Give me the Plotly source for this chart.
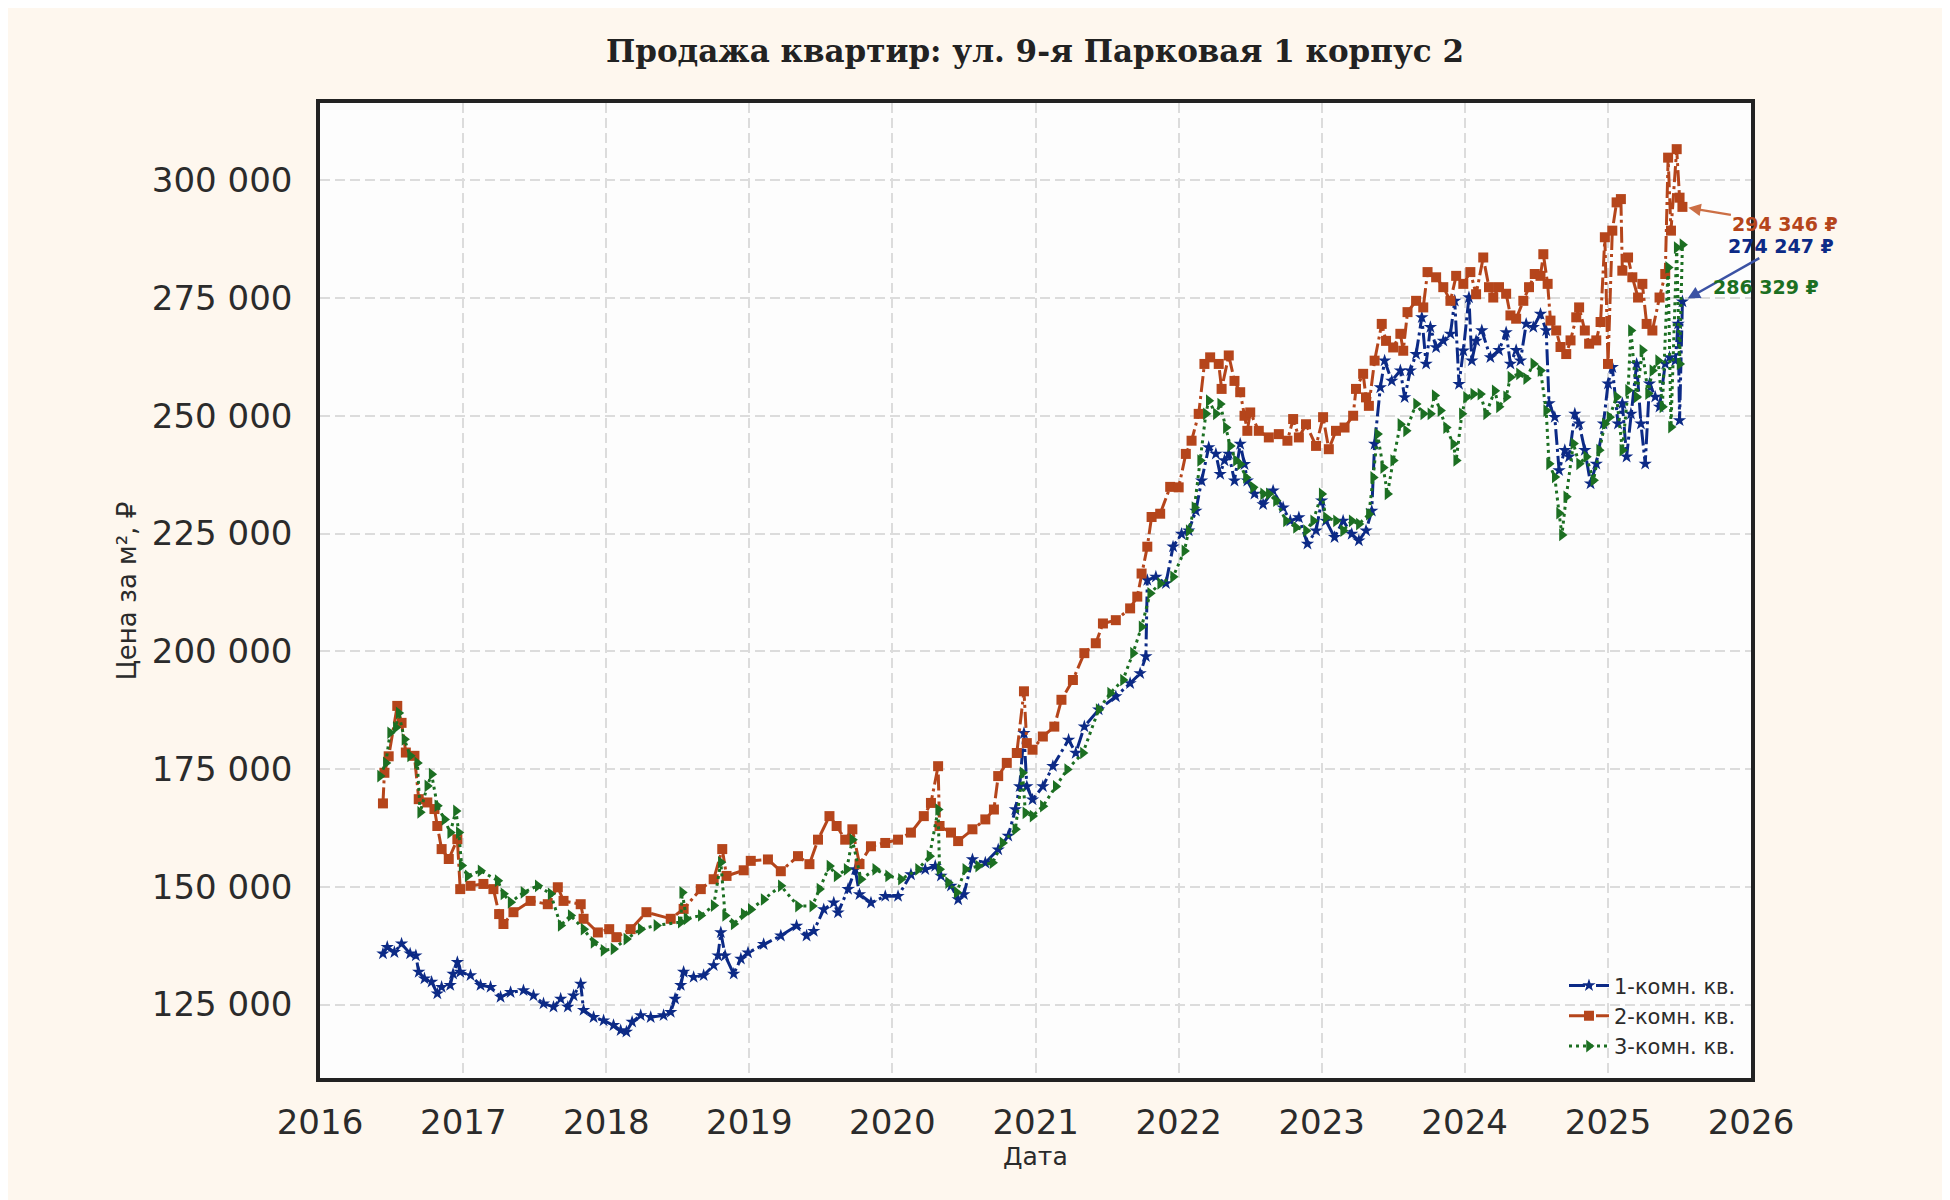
import pandas as pd
import plotly.graph_objects as go

# decimal years and prices per m²
one_room_t = [
    2016.44, 2016.47, 2016.52, 2016.57, 2016.63, 2016.67, 2016.69, 2016.73, 2016.78, 2016.82, 2016.85, 2016.91, 2016.93, 2016.96, 2016.98,
    2017.05, 2017.12, 2017.19, 2017.26, 2017.33, 2017.42, 2017.49, 2017.56, 2017.63, 2017.68, 2017.73, 2017.77, 2017.82, 2017.84, 2017.91, 2017.98,
    2018.05, 2018.10, 2018.14, 2018.18, 2018.24, 2018.31, 2018.40, 2018.45, 2018.48, 2018.52, 2018.54, 2018.61, 2018.68, 2018.75, 2018.78, 2018.80, 2018.83, 2018.89, 2018.94, 2018.99,
    2019.10, 2019.22, 2019.33, 2019.40, 2019.45, 2019.52, 2019.59, 2019.62, 2019.69, 2019.74, 2019.77, 2019.85, 2019.95,
    2020.04, 2020.13, 2020.23, 2020.30, 2020.34, 2020.41, 2020.46, 2020.50, 2020.56, 2020.65, 2020.74, 2020.81, 2020.86, 2020.89, 2020.92, 2020.94, 2020.98,
    2021.05, 2021.12, 2021.23, 2021.28, 2021.34, 2021.44, 2021.56, 2021.66, 2021.73, 2021.77, 2021.78, 2021.84, 2021.91, 2021.96,
    2022.02, 2022.07, 2022.12, 2022.16, 2022.21, 2022.26, 2022.29, 2022.32, 2022.35, 2022.39, 2022.43, 2022.46, 2022.48, 2022.53, 2022.59, 2022.66, 2022.73, 2022.78, 2022.84, 2022.90, 2022.96,
    2023.00, 2023.03, 2023.09, 2023.15, 2023.21, 2023.26, 2023.31, 2023.35, 2023.37, 2023.41, 2023.44, 2023.49, 2023.55, 2023.58, 2023.62, 2023.66, 2023.70, 2023.73, 2023.76, 2023.80, 2023.85, 2023.90, 2023.93, 2023.96, 2023.99,
    2024.03, 2024.05, 2024.08, 2024.12, 2024.18, 2024.24, 2024.29, 2024.32, 2024.36, 2024.39, 2024.43, 2024.48, 2024.53, 2024.57, 2024.59, 2024.63, 2024.66, 2024.70, 2024.73, 2024.77, 2024.80, 2024.84, 2024.88, 2024.92, 2024.97,
    2025.00, 2025.03, 2025.07, 2025.10, 2025.13, 2025.16, 2025.20, 2025.23, 2025.26, 2025.29, 2025.33, 2025.36, 2025.40, 2025.43, 2025.47, 2025.49, 2025.50, 2025.52,
]
one_room_v = [
    135800, 137200, 136100, 137900, 135800, 135400, 131900, 130500, 129800, 127300, 128700, 129100, 131500, 134000, 131900,
    131200, 129100, 128700, 126600, 127600, 128000, 126900, 125200, 124500, 126200, 124500, 126900, 129400, 123800, 122300, 121600,
    120600, 119500, 119200, 121300, 122700, 122300, 122700, 123400, 126200, 129100, 131900, 130800, 131200, 133300, 135400, 140300, 135400, 131500, 134700, 136000,
    137800, 139600, 141700, 139600, 140600, 145200, 146600, 144500, 149500, 153700, 148400, 146600, 148000,
    148000, 152600, 153700, 154400, 152300, 150200, 147300, 148400, 155800, 155100, 157900, 160800, 166400, 171300, 182600, 171300, 168500,
    171300, 175600, 181200, 178400, 184000, 187600, 190400, 193200, 195300, 198900, 215100, 215800, 214400, 222200,
    224900, 225600, 229800, 236200, 243300, 241900, 237600, 240500, 241900, 236200, 244000, 239700, 236200, 233400, 231200, 234100, 230500, 227700, 228400, 222800, 225600,
    232000, 227700, 224200, 227700, 224900, 223500, 225600, 229800, 244000, 256000, 261700, 257400, 259600, 253900, 259600, 263100, 270900, 261000, 268800, 264500, 265900, 267400, 274400, 256700, 263800,
    275100, 261700, 265900, 268100, 262400, 263900, 267700, 261000, 263900, 261700, 269500, 268800, 271600, 268100, 252600, 249700, 238400, 242700, 241300, 250400, 248300, 242700, 235600, 239800, 248300,
    256800, 260300, 248300, 252600, 241300, 250400, 261000, 248300, 239800, 256800, 254000, 251900, 261000, 262400, 261700, 269500, 249000, 274247,
]

two_room_t = [
    2016.44, 2016.45, 2016.48, 2016.54, 2016.57, 2016.60, 2016.66, 2016.69, 2016.75, 2016.80, 2016.82, 2016.85, 2016.90, 2016.96, 2016.98,
    2017.05, 2017.14, 2017.21, 2017.25, 2017.28, 2017.35, 2017.47, 2017.59, 2017.66, 2017.70, 2017.82, 2017.84, 2017.94,
    2018.02, 2018.07, 2018.17, 2018.28, 2018.45, 2018.54, 2018.66, 2018.75, 2018.81, 2018.84, 2018.96,
    2019.01, 2019.13, 2019.22, 2019.34, 2019.42, 2019.48, 2019.56, 2019.61, 2019.67, 2019.72, 2019.77, 2019.85, 2019.95,
    2020.04, 2020.13, 2020.22, 2020.27, 2020.32, 2020.33, 2020.41, 2020.46, 2020.56, 2020.65, 2020.71, 2020.74, 2020.80, 2020.87, 2020.92, 2020.94, 2020.98,
    2021.05, 2021.13, 2021.18, 2021.26, 2021.34, 2021.42, 2021.47, 2021.56, 2021.66, 2021.71, 2021.74, 2021.78, 2021.81, 2021.87, 2021.94,
    2022.00, 2022.05, 2022.09, 2022.14, 2022.18, 2022.22, 2022.28, 2022.30, 2022.35, 2022.39, 2022.43, 2022.46, 2022.48, 2022.50, 2022.56, 2022.63, 2022.70, 2022.76, 2022.80, 2022.84, 2022.89, 2022.96,
    2023.01, 2023.05, 2023.10, 2023.16, 2023.22, 2023.24, 2023.29, 2023.31, 2023.33, 2023.37, 2023.42, 2023.45, 2023.50, 2023.55, 2023.57, 2023.60, 2023.66, 2023.71, 2023.74, 2023.80, 2023.85, 2023.90, 2023.94, 2023.99,
    2024.04, 2024.08, 2024.13, 2024.17, 2024.20, 2024.24, 2024.29, 2024.32, 2024.36, 2024.41, 2024.45, 2024.49, 2024.53, 2024.55, 2024.58, 2024.60, 2024.64, 2024.67, 2024.71, 2024.74, 2024.78, 2024.80, 2024.84, 2024.87, 2024.92, 2024.95, 2024.98,
    2025.00, 2025.03, 2025.06, 2025.09, 2025.10, 2025.14, 2025.17, 2025.21, 2025.24, 2025.27, 2025.31, 2025.36, 2025.40, 2025.42, 2025.44, 2025.48, 2025.50, 2025.52,
]
two_room_v = [
    167700, 174200, 177700, 188400, 184800, 178500, 177800, 168600, 167900, 166500, 162900, 158000, 155900, 160100, 149500,
    150200, 150600, 149500, 144200, 142100, 144600, 147000, 146300, 149900, 147000, 146300, 143200, 140300,
    141000, 139300, 141000, 144600, 143200, 145300, 149500, 151600, 158000, 152300, 153500,
    155500, 155800, 153300, 156500, 154800, 160000, 165000, 162900, 160000, 162200, 154800, 158600, 159300,
    160000, 161500, 165000, 167800, 175600, 162900, 161500, 159700, 162200, 164300, 166400, 173500, 176300, 178400, 191500, 180500, 179100,
    181900, 184000, 189700, 193900, 199600, 201700, 205900, 206600, 209100, 211600, 216500, 222200, 228500, 229200, 234900,
    234800, 241900, 244700, 250400, 261000, 262400, 261000, 255700, 262800, 257400, 255000, 250000, 246800, 250700, 246800, 245400, 246100, 244700, 249300, 245400, 248200, 243600,
    249700, 242900, 246800, 247500, 250000, 255700, 258900, 253900, 252100, 261700, 269500, 265900, 264500, 267400, 263800, 272000, 274400, 273000, 280500, 279400, 277300, 274400, 279700, 278000,
    280500, 275800, 283600, 277300, 275100, 277300, 275900, 271300, 270600, 274400, 277300, 280100, 279700, 284300, 278000, 270200, 268100, 264600, 263100, 266000, 270900, 273000, 268100, 265300, 266000, 269900, 287900,
    261000, 289300, 295300, 296000, 280800, 283600, 279400, 275100, 278000, 269500, 268100, 275100, 280100, 304800, 289300, 306600, 296300, 294346,
]

three_room_t = [
    2016.42, 2016.46, 2016.49, 2016.53, 2016.55, 2016.59, 2016.63, 2016.68, 2016.70, 2016.75, 2016.78, 2016.82, 2016.87, 2016.91, 2016.95, 2016.97, 2016.99,
    2017.03, 2017.12, 2017.24, 2017.28, 2017.33, 2017.42, 2017.52, 2017.61, 2017.68, 2017.75, 2017.84, 2017.91, 2017.98,
    2018.05, 2018.14, 2018.24, 2018.35, 2018.52, 2018.53, 2018.56, 2018.66, 2018.75, 2018.80, 2018.83, 2018.89, 2018.96,
    2019.01, 2019.10, 2019.22, 2019.34, 2019.44, 2019.49, 2019.56, 2019.61, 2019.68, 2019.72, 2019.78, 2019.88, 2019.97,
    2020.06, 2020.18, 2020.26, 2020.32, 2020.33, 2020.39, 2020.45, 2020.51, 2020.60, 2020.70, 2020.77, 2020.86, 2020.91, 2020.93, 2020.98,
    2021.05, 2021.14, 2021.22, 2021.33, 2021.44, 2021.52, 2021.61, 2021.68, 2021.74, 2021.80, 2021.87, 2021.96,
    2022.04, 2022.07, 2022.11, 2022.15, 2022.19, 2022.21, 2022.26, 2022.29, 2022.33, 2022.36, 2022.40, 2022.43, 2022.47, 2022.52, 2022.59, 2022.63, 2022.68, 2022.75, 2022.82, 2022.89, 2022.94,
    2023.00, 2023.03, 2023.10, 2023.15, 2023.21, 2023.26, 2023.33, 2023.36, 2023.39, 2023.43, 2023.46, 2023.50, 2023.55, 2023.59, 2023.66, 2023.71, 2023.76, 2023.79, 2023.83, 2023.87, 2023.92, 2023.94, 2023.98,
    2024.01, 2024.06, 2024.11, 2024.15, 2024.21, 2024.24, 2024.29, 2024.32, 2024.38, 2024.43, 2024.48, 2024.53, 2024.57, 2024.59, 2024.63, 2024.66, 2024.68, 2024.71, 2024.76, 2024.80, 2024.85, 2024.90, 2024.94, 2024.98,
    2025.01, 2025.06, 2025.10, 2025.14, 2025.16, 2025.20, 2025.24, 2025.28, 2025.31, 2025.35, 2025.38, 2025.42, 2025.44, 2025.48, 2025.50, 2025.52,
]
three_room_v = [
    173500, 176300, 182700, 183800, 186900, 181300, 177800, 176300, 165800, 171400, 173900, 167200, 164300, 161500, 166100, 161500, 154500,
    152300, 153400, 151300, 148500, 146700, 148800, 150200, 148500, 141800, 143900, 141000, 138200, 136500,
    136800, 138900, 141000, 141800, 142500, 148800, 143200, 143900, 146000, 155200, 143900, 142100, 144200,
    145200, 147300, 150200, 145900, 145900, 149500, 154400, 152300, 153700, 160000, 151600, 153700, 152300,
    151600, 153700, 156500, 166400, 153700, 150900, 148800, 153700, 154400, 155100, 159300, 162200, 174200, 165700, 165000,
    167100, 171300, 174900, 178400, 187600, 191100, 193900, 199600, 205200, 212300, 214400, 215800,
    221300, 225600, 230500, 240500, 250400, 253200, 250400, 252500, 247500, 243600, 240500, 239700, 236900, 234800, 233400, 233400, 232000, 227700, 226300, 225600, 227700,
    233400, 228400, 227700, 225600, 227700, 227000, 229100, 236900, 246100, 239000, 233400, 240500, 248200, 246800, 252500, 250400, 250400, 254300, 251100, 247500, 244000, 240500, 250400,
    253900, 254600, 254600, 250400, 255300, 251900, 254000, 258200, 258900, 257900, 261000, 259600, 251100, 239800, 237000, 229300, 224700, 232800, 244100, 239800, 241300, 236300, 242700, 248300,
    249700, 254000, 242700, 255400, 268100, 254000, 263900, 254700, 259600, 261700, 251900, 281500, 247600, 285700, 261000, 286329,
]

room_labels = ["1-комн. кв.", "2-комн. кв.", "3-комн. кв."]
year_ticks = list(range(2016, 2027))

BLUE = "#0c2a86"
ORANGE = "#b5451b"
GREEN = "#1c6f22"
FONT = "DejaVu Sans"

# the page body adds an 8px offset, so the figure is a bit smaller
W, H = 1942, 1192


def to_dates(years):
    out = []
    for y in years:
        base = pd.Timestamp(year=int(y), month=1, day=1)
        out.append(base + pd.Timedelta(days=(y - int(y)) * 365.25))
    return out


series = [
    (room_labels[0], one_room_t, one_room_v, BLUE, "star", 10, "16px,4px,3px,4px", "#3b52a4", 99, -56),
    (room_labels[1], two_room_t, two_room_v, ORANGE, "square", 10, "16px,4px,3px,4px", "#cc6f45", 103, 17),
    (room_labels[2], three_room_t, three_room_v, GREEN, "triangle-right", 11, "3px,4px", "#2c7d31", 84, 42),
]

fig = go.Figure()
for name, t, v, color, symbol, msize, dash, arrow_color, ax, ay in series:
    assert len(t) == len(v), name
    dates = to_dates(t)
    fig.add_trace(go.Scatter(
        x=dates, y=v, mode="lines+markers", name=name,
        line=dict(color=color, width=3, dash=dash),
        marker=dict(symbol=symbol, size=msize, color=color, line=dict(width=0)),
    ))
    fig.add_annotation(
        x=dates[-1], y=v[-1], text=f"{v[-1]:,} ₽".replace(",", " "),
        showarrow=True, ax=ax, ay=ay, arrowhead=2, arrowsize=1, arrowwidth=2.5,
        arrowcolor=arrow_color, standoff=6,
        font=dict(family=FONT, size=19, color=color, weight="bold"),
    )

axis_style = dict(
    showgrid=True, gridcolor="#dcdcdc", gridwidth=2, griddash="10px,5px",
    showline=True, mirror=True, linecolor="#222222", linewidth=3.5,
    ticks="", zeroline=False, automargin=False,
    tickfont=dict(family=FONT, size=34, color="#2b2b2b"),
)

fig.update_xaxes(
    range=["2016-01-01", "2026-01-01"],
    tickvals=[f"{y}-01-01" for y in year_ticks], ticktext=[str(y) for y in year_ticks],
    ticklabelstandoff=11, **axis_style,
)
fig.update_yaxes(
    range=[109400, 316400], tick0=0, dtick=25000, tickformat=",d",
    ticklabelstandoff=17, **axis_style,
)

fig.add_annotation(
    text="Дата", xref="paper", yref="paper", x=0.5, y=-0.081,
    showarrow=False, yanchor="middle", font=dict(family=FONT, size=25, color="#2b2b2b"),
)
fig.add_annotation(
    text="Цена за м², ₽", xref="paper", yref="paper", x=-0.135, y=0.5,
    showarrow=False, textangle=-90, xanchor="center", yanchor="middle",
    font=dict(family=FONT, size=26, color="#2b2b2b"),
)

fig.update_layout(
    width=W, height=H,
    margin=dict(l=312, r=199, t=95, b=122, autoexpand=False),
    paper_bgcolor="#fef7ee", plot_bgcolor="#fdfdfd",
    separators=". ",
    title=dict(
        text="<b>Продажа квартир: ул. 9-я Парковая 1 корпус 2</b>",
        x=(1035 - 8) / W, xanchor="center", y=1 - 43 / H, yanchor="middle",
        font=dict(family="DejaVu Serif", size=31, color="#222222"),
    ),
    legend=dict(
        x=0.993, y=0.012, xanchor="right", yanchor="bottom",
        bgcolor="rgba(0,0,0,0)", borderwidth=0,
        font=dict(family=FONT, size=21, color="#2b2b2b"),
        itemwidth=40,
    ),
    showlegend=True,
)

fig.write_html("out.html")
